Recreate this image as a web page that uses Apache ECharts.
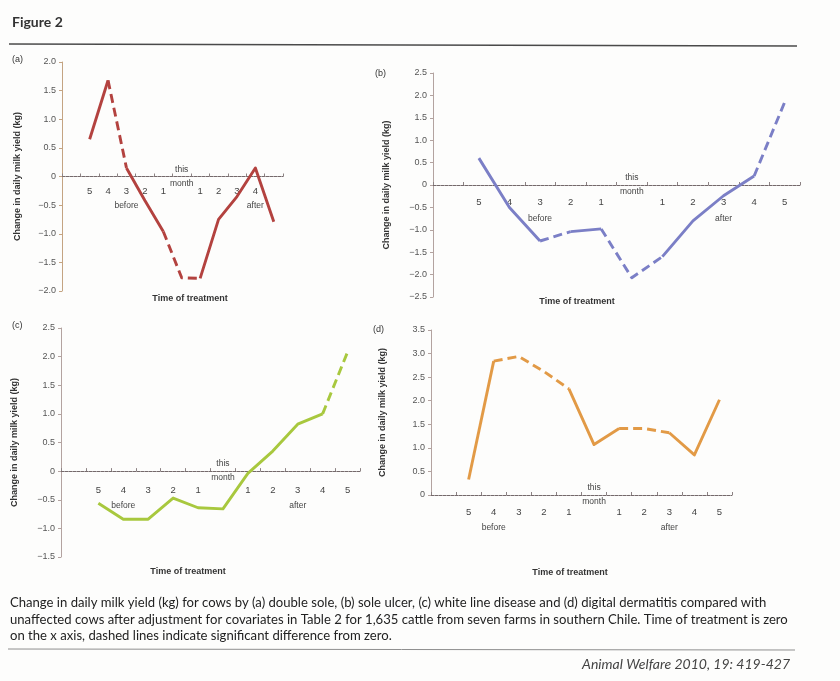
<!DOCTYPE html>
<html>
<head>
<meta charset="utf-8">
<script src="https://cdn.jsdelivr.net/npm/echarts@6/dist/echarts.min.js"></script>
<style>
  html, body { margin: 0; padding: 0; background: #fdfdfc; }
  #chart { width: 840px; height: 681px; }
</style>
</head>
<body>
<div id="chart"></div>
<script>
// ---------- data ----------
const categoryKeys = ['pad', 'b5', 'b4', 'b3', 'b2', 'b1', 'm0', 'a1', 'a2', 'a3', 'a4', 'a5'];
const tickLabels   = ['', '5', '4', '3', '2', '1', '', '1', '2', '3', '4', '5'];
const tickLabelsA  = ['', '5', '4', '3', '2', '1', '', '1', '2', '3', '4', ''];
const middleLabel  = ['this', 'month'];
const periodLabels = ['before', 'after'];

// change in daily milk yield (kg), months 5..1 before, this month, 1..5 after
const yieldA = [0.65, 1.68, 0.15, -0.42, -0.96, -1.77, -1.78, -0.75, -0.35, 0.15, -0.79];
const yieldB = [0.6, -0.5, -1.25, -1.04, -0.98, -2.07, -1.6, -0.8, -0.24, 0.2, 1.85];
const yieldC = [-0.56, -0.84, -0.84, -0.47, -0.64, -0.66, -0.04, 0.35, 0.82, 1.0, 2.08];
const yieldD = [0.33, 2.84, 2.94, 2.62, 2.25, 1.07, 1.41, 1.41, 1.32, 0.85, 2.02];

// 1 = dashed segment (significant), per segment between consecutive points
const dashA = [0, 1, 0, 0, 1, 1, 0, 0, 0, 0];
const dashB = [0, 0, 1, 0, 1, 1, 0, 0, 0, 1];
const dashC = [0, 0, 0, 0, 0, 0, 0, 0, 0, 1];
const dashD = [0, 1, 1, 1, 0, 0, 1, 1, 0, 0];

const panelLetters = ['(a)', '(b)', '(c)', '(d)'];
const yTitle = 'Change in daily milk yield (kg)';
const xTitle = 'Time of treatment';
const captionLines = [
  'Change in daily milk yield (kg) for cows by (a) double sole, (b) sole ulcer, (c) white line disease and (d) digital dermatitis compared with',
  'unaffected cows after adjustment for covariates in Table 2 for 1,635 cattle from seven farms in southern Chile. Time of treatment is zero',
  'on the x axis, dashed lines indicate significant difference from zero.'
];
const figureTitle = 'Figure 2';
const sourceText = 'Animal Welfare 2010, 19: 419-427';

// ---------- layout ----------
const panels = [
  { values: yieldA, dashed: dashA, ticks: tickLabelsA, color: '#b3423f', axisColor: '#c4a482',
    grid: { left: 62, top: 62, width: 221, height: 229 }, yMin: -2, yMax: 2, nameGap: 40,
    letter: [12, 60], title: [190, 299], beforeAt: 2.6, afterAt: 9.75, periodGap: 29, labelGap: 10 },
  { values: yieldB, dashed: dashB, ticks: tickLabels, color: '#7b7fc6', axisColor: '#b3a3a0',
    grid: { left: 433, top: 73, width: 367, height: 224 }, yMin: -2.5, yMax: 2.5, nameGap: 42,
    letter: [375, 74], title: [577, 302], beforeAt: 3.3, afterAt: 8.9, periodGap: 34, labelGap: 12 },
  { values: yieldC, dashed: dashC, ticks: tickLabels, color: '#a8c83e', axisColor: '#b3a3a0',
    grid: { left: 61, top: 328, width: 299, height: 229 }, yMin: -1.5, yMax: 2.5, nameGap: 42,
    letter: [12, 326], title: [188, 572], beforeAt: 2.46, afterAt: 9.1, periodGap: 35, labelGap: 14 },
  { values: yieldD, dashed: dashD, ticks: tickLabels, color: '#e29a46', axisColor: '#b3a3a0',
    grid: { left: 431, top: 330, width: 301, height: 165 }, yMin: 0, yMax: 3.5, nameGap: 44,
    letter: [373, 330], title: [570, 573], beforeAt: 2.29, afterAt: 9.19, periodGap: 33, labelGap: 12 }
];

const FONT = '"Liberation Sans", Arial, sans-serif';
const CAPFONT = 'Lato, "Open Sans", sans-serif';

function fmtY(v) {
  if (v === 0) return '0';
  return v.toFixed(1).replace('-', '\u2212');
}

const grids = [], xAxes = [], yAxes = [], series = [];
panels.forEach((p, i) => {
  grids.push(Object.assign({ containLabel: false, outerBoundsMode: 'none' }, p.grid));
  xAxes.push({
    type: 'category', gridIndex: i, data: categoryKeys, boundaryGap: true, position: 'bottom', offset: 0,
    axisLine: { onZero: false, lineStyle: { color: '#74696b', width: 1, type: [3, 1] } },
    axisTick: { show: true, inside: true, length: 3, lineStyle: { color: '#8c8283' } },
    axisLabel: { interval: 0, margin: p.labelGap, fontSize: 9.5, color: '#444', fontFamily: FONT,
      formatter: (v, idx) => p.ticks[idx] },
    splitLine: { show: false }
  });
  yAxes.push({
    type: 'value', gridIndex: i, min: p.yMin, max: p.yMax, interval: 0.5,
    axisLine: { show: true, lineStyle: { color: p.axisColor, width: 1 } },
    axisTick: { show: true, length: 3, lineStyle: { color: p.axisColor } },
    axisLabel: { fontSize: 9, color: '#555', margin: 6, fontFamily: FONT, formatter: fmtY },
    splitLine: { show: false },
    name: yTitle, nameLocation: 'middle', nameGap: p.nameGap, nameRotate: 90,
    nameTextStyle: { fontSize: 9, fontWeight: 'bold', color: '#333', fontFamily: FONT }
  });
  // split the line into runs of equal style
  let start = 0;
  for (let k = 1; k <= p.dashed.length; k++) {
    if (k === p.dashed.length || p.dashed[k] !== p.dashed[start]) {
      const data = new Array(categoryKeys.length).fill(null);
      for (let j = start; j <= k; j++) data[j + 1] = p.values[j];
      series.push({
        type: 'line', xAxisIndex: i, yAxisIndex: i, data: data,
        symbol: 'none', showSymbol: false, connectNulls: false, silent: true,
        lineStyle: { color: p.color, width: 2.9, type: p.dashed[start] ? [9, 5] : 'solid', cap: 'butt', join: 'round' },
        z: 3
      });
      start = k;
    }
  }
});

const staticGraphics = [
  { type: 'text', x: 12, y: 22, style: { text: figureTitle, font: 'bold 14px ' + CAPFONT, fill: '#333', verticalAlign: 'middle' } },
  { type: 'line', shape: { x1: 9, y1: 44, x2: 797, y2: 46 }, style: { stroke: '#4a4a4a', lineWidth: 1.6 } },
  { type: 'line', shape: { x1: 8, y1: 649, x2: 795, y2: 650 }, style: { stroke: '#8f8f8f', lineWidth: 1 } },
  { type: 'text', x: 790, y: 664, style: { text: sourceText, font: 'italic 14px ' + CAPFONT, fill: '#444', align: 'right', verticalAlign: 'middle' } }
];
captionLines.forEach((t, k) => {
  staticGraphics.push({ type: 'text', x: 10, y: 603 + k * 16.5,
    style: { text: t, font: '13.1px ' + CAPFONT, fill: '#222', verticalAlign: 'middle' } });
});
panels.forEach((p, i) => {
  staticGraphics.push({ type: 'text', x: p.letter[0], y: p.letter[1],
    style: { text: panelLetters[i], font: '9px ' + FONT, fill: '#333', verticalAlign: 'middle' } });
  staticGraphics.push({ type: 'text', x: p.title[0], y: p.title[1],
    style: { text: xTitle, font: 'bold 9px ' + FONT, fill: '#333', align: 'center', verticalAlign: 'middle' } });
});

const chart = echarts.init(document.getElementById('chart'), null, { renderer: 'canvas' });
chart.setOption({
  animation: false,
  backgroundColor: '#fdfdfc',
  textStyle: { fontFamily: FONT },
  grid: grids, xAxis: xAxes, yAxis: yAxes, series: series,
  graphic: staticGraphics
});

// move each x axis onto the zero line of its value axis, and place texts via the axis scales
const dyn = [];
const xOffsets = [];
panels.forEach((p, i) => {
  const zeroY = chart.convertToPixel({ yAxisIndex: i }, 0);
  xOffsets.push({ offset: zeroY - (p.grid.top + p.grid.height) });
  const mid = chart.convertToPixel({ gridIndex: i }, [6, 0]);
  dyn.push({ type: 'text', x: mid[0], y: mid[1] - 7,
    style: { text: middleLabel[0], font: '8.5px ' + FONT, fill: '#444', align: 'center', verticalAlign: 'middle' } });
  dyn.push({ type: 'text', x: mid[0], y: mid[1] + 7,
    style: { text: middleLabel[1], font: '8.5px ' + FONT, fill: '#444', align: 'center', verticalAlign: 'middle' } });
  const b = chart.convertToPixel({ gridIndex: i }, [p.beforeAt, 0]);
  const a = chart.convertToPixel({ gridIndex: i }, [p.afterAt, 0]);
  dyn.push({ type: 'text', x: b[0], y: b[1] + p.periodGap,
    style: { text: periodLabels[0], font: '8.5px ' + FONT, fill: '#444', align: 'center', verticalAlign: 'middle' } });
  dyn.push({ type: 'text', x: a[0], y: a[1] + p.periodGap,
    style: { text: periodLabels[1], font: '8.5px ' + FONT, fill: '#444', align: 'center', verticalAlign: 'middle' } });
});
chart.setOption({ xAxis: xOffsets, graphic: staticGraphics.concat(dyn) });
</script>
</body>
</html>
